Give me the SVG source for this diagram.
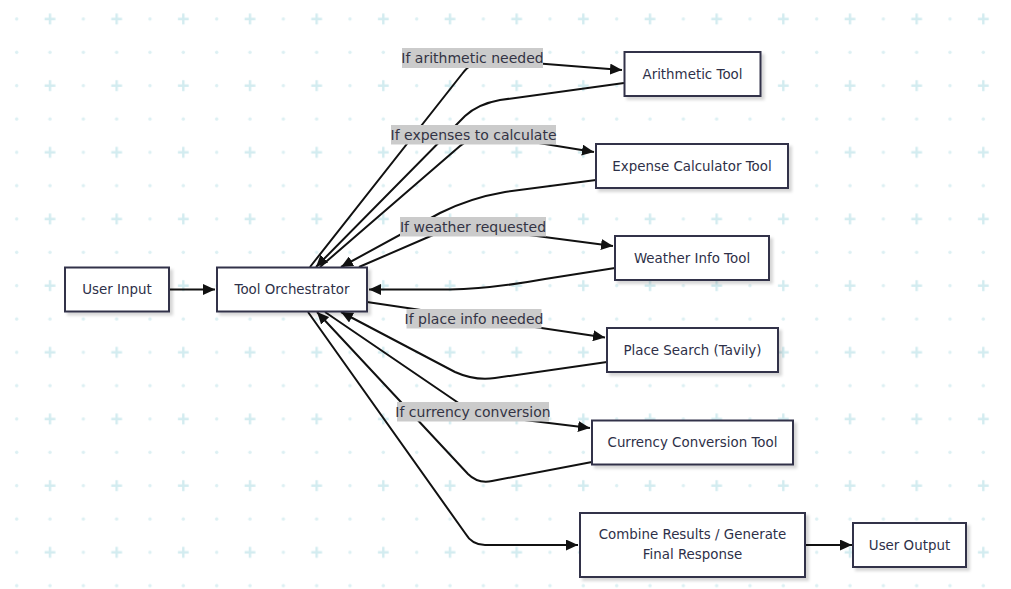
<svg xmlns="http://www.w3.org/2000/svg" width="1011" height="589" viewBox="0 0 1011 589">
  <defs>
    <pattern id="grid" x="0" y="2.33" width="66.667" height="66.667" patternUnits="userSpaceOnUse">
      <circle cx="16.67" cy="16.67" r="1.7" fill="#dcf0f3"/>
      <circle cx="16.67" cy="50" r="1.7" fill="#dcf0f3"/>
      <circle cx="50" cy="50" r="1.7" fill="#dcf0f3"/>
      <path d="M44.6,16.67 H55.4 M50,11.27 V22.07" stroke="#d3ecf0" stroke-width="2.4"/>
    </pattern>
    <filter id="shadow" x="-10%" y="-20%" width="130%" height="150%">
      <feDropShadow dx="3" dy="3" stdDeviation="1.6" flood-color="#000" flood-opacity="0.16"/>
    </filter>
    <marker id="arrow" viewBox="0 0 12 11" refX="12" refY="5.5" markerWidth="12" markerHeight="11" markerUnits="userSpaceOnUse" orient="auto">
      <path d="M0,0 L12,5.5 L0,11 z" fill="#111"/>
    </marker>
    <style>
      .node rect { fill: #ffffff; stroke: #33334a; stroke-width: 2; filter: url(#shadow); }
      .node text { font-family: "DejaVu Sans", sans-serif; font-size: 13.4px; fill: #2e3048; text-anchor: middle; }
      .edge { fill: none; stroke: #111; stroke-width: 2; }
      .arr { marker-end: url(#arrow); }
      .label rect { fill: #cbcbcb; }
      .label text { font-family: "DejaVu Sans", sans-serif; font-size: 14px; fill: #333344; text-anchor: middle; }
    </style>
  </defs>

  <rect x="0" y="0" width="1011" height="589" fill="#ffffff"/>
  <rect x="0" y="0" width="1011" height="589" fill="url(#grid)"/>

  <g id="connectors">
    <path class="edge arr" d="M169,289.5 L215,289.5"/>
    <!-- out: arithmetic -->
    <path class="edge arr" d="M310,267 L462,74 Q474,58 494,60 L622,70"/>
    <!-- back: arithmetic -->
    <path class="edge arr" d="M624,83 L500,100 Q478,104 465,116 L316,267"/>
    <!-- out: expenses -->
    <path class="edge arr" d="M320,267 L460,146 Q475,133 495,136 L594,152"/>
    <!-- back: expenses -->
    <path class="edge arr" d="M596,180 L505,192 Q470,198 440,213 L341,267"/>
    <!-- out: weather -->
    <path class="edge arr" d="M359,267 L440,232 Q462,223 490,230 L613,246"/>
    <!-- back: weather -->
    <path class="edge arr" d="M615,268 L545,279 Q490,289 450,289.5 L369,289.5"/>
    <!-- out: place -->
    <path class="edge arr" d="M367,302 L605,337.5"/>
    <!-- back: place -->
    <path class="edge arr" d="M607,362 L495,378 Q475,381 455,372 L341,312"/>
    <!-- out: currency -->
    <path class="edge arr" d="M325,312 L460,404 Q478,416 500,417 L590,428"/>
    <!-- back: currency -->
    <path class="edge arr" d="M592,462 L492,481 Q478,484 468,474 L317,312"/>
    <!-- out: combine -->
    <path class="edge arr" d="M308,312 L465,533 Q472,545 485,545 L578,545"/>
    <!-- combine to output -->
    <path class="edge arr" d="M805,545 L852,545"/>

    <g class="label"><rect x="402" y="48" width="141" height="20"/><text x="472.5" y="63">If arithmetic needed</text></g>
    <g class="label"><rect x="391" y="125" width="165" height="19.5"/><text x="473.5" y="139.5">If expenses to calculate</text></g>
    <g class="label"><rect x="400" y="217" width="146" height="19.5"/><text x="473" y="231.5">If weather requested</text></g>
    <g class="label"><rect x="406.5" y="309" width="135" height="19.5"/><text x="474" y="323.5">If place info needed</text></g>
    <g class="label"><rect x="397" y="402" width="152" height="19.5"/><text x="473" y="416.5">If currency conversion</text></g>
  </g>

  <g id="node-user-input" class="node"><rect x="65" y="267.5" width="104" height="44"/><text x="117" y="294">User Input</text></g>
  <g id="node-orchestrator" class="node"><rect x="217" y="267.5" width="150" height="44"/><text x="292" y="294">Tool Orchestrator</text></g>
  <g id="node-arithmetic" class="node"><rect x="624.5" y="52" width="136" height="44"/><text x="692.5" y="78.5">Arithmetic Tool</text></g>
  <g id="node-expense" class="node"><rect x="596" y="144" width="192" height="44"/><text x="692" y="170.5">Expense Calculator Tool</text></g>
  <g id="node-weather" class="node"><rect x="615" y="236" width="154" height="44"/><text x="692" y="262.5">Weather Info Tool</text></g>
  <g id="node-place" class="node"><rect x="607" y="328" width="171" height="44"/><text x="692.5" y="354.5">Place Search (Tavily)</text></g>
  <g id="node-currency" class="node"><rect x="592" y="420.5" width="201" height="44"/><text x="692.5" y="447">Currency Conversion Tool</text></g>
  <g id="node-combine" class="node"><rect x="580" y="513" width="225" height="64"/><text x="692.5" y="539">Combine Results / Generate</text><text x="692.5" y="559">Final Response</text></g>
  <g id="node-user-output" class="node"><rect x="853" y="523" width="113" height="44"/><text x="909.5" y="549.5">User Output</text></g>
</svg>
